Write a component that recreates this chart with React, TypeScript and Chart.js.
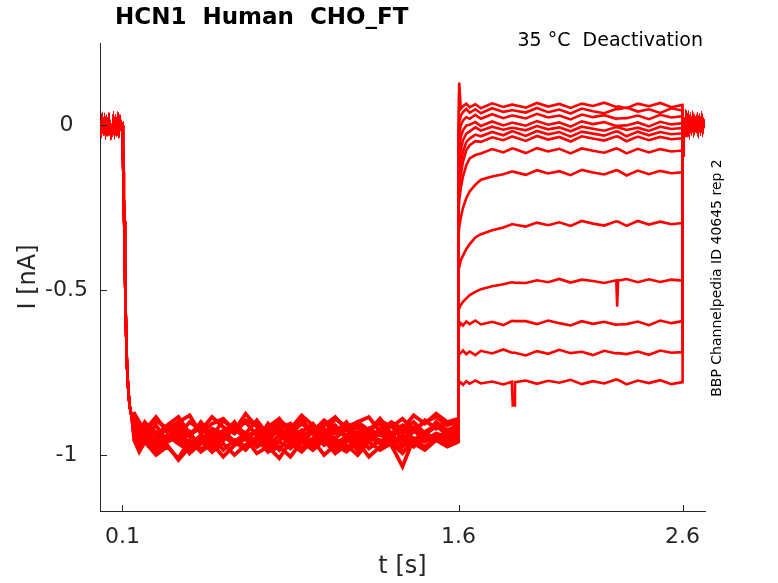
import React, { useEffect, useRef } from 'react';
import { Chart, registerables } from 'chart.js';

Chart.register(...registerables);

// holding at 0 before the step
const preT = [0, 0.005, 0.01, 0.015, 0.02, 0.025, 0.03, 0.035, 0.04, 0.045, 0.05, 0.055, 0.06, 0.065, 0.07, 0.075, 0.08, 0.085, 0.09, 0.095];
const preI = [0.01, -0.012, 0.014, -0.008, 0.012, -0.015, 0.009, -0.01, 0.013, -0.011, -0.03, -0.02, 0.012, -0.014, 0.01, -0.01, 0.014, -0.012, 0.011, -0.006];

// activation step (same for all sweeps)
const dropT = [0.1, 0.102, 0.104, 0.106, 0.108, 0.111, 0.115, 0.12, 0.125, 0.132, 0.14];
const dropI = [0, -0.06, -0.14, -0.22, -0.29, -0.42, -0.58, -0.72, -0.79, -0.85, -0.88];

const holdT = [0.15, 0.175, 0.2, 0.25, 0.3, 0.35, 0.4, 0.45, 0.5, 0.55, 0.6, 0.65, 0.7, 0.75, 0.8, 0.85, 0.9, 0.95, 1.0, 1.05, 1.1, 1.15, 1.2, 1.25, 1.3, 1.35, 1.4, 1.45, 1.5, 1.55, 1.599];
const holdI = [
  [-0.9, -0.92, -0.95, -0.91, -0.96, -0.92, -0.945, -0.9, -0.94, -0.955, -0.915, -0.935, -0.96, -0.905, -0.94, -0.925, -0.955, -0.91, -0.945, -0.93, -0.9, -0.95, -0.92, -0.94, -0.905, -0.935, -0.915, -0.94, -0.9, -0.925, -0.91],
  [-0.92, -0.96, -0.935, -0.975, -0.94, -0.965, -0.93, -0.985, -0.95, -0.93, -0.97, -0.945, -0.925, -0.975, -0.955, -0.935, -0.98, -0.95, -0.92, -0.965, -0.945, -0.975, -0.93, -0.96, -0.94, -0.97, -0.925, -0.955, -0.935, -0.945, -0.93],
  [-0.87, -0.9, -0.925, -0.885, -0.93, -0.9, -0.88, -0.935, -0.905, -0.89, -0.925, -0.875, -0.915, -0.93, -0.895, -0.92, -0.88, -0.91, -0.94, -0.89, -0.915, -0.9, -0.885, -0.93, -0.9, -0.92, -0.88, -0.905, -0.875, -0.9, -0.89],
  [-0.94, -0.98, -0.95, -0.99, -0.96, -0.945, -0.995, -0.965, -0.94, -0.985, -0.955, -0.975, -0.945, -0.99, -0.96, -0.98, -0.95, -0.975, -0.94, -0.985, -0.96, -0.945, -0.98, -0.955, -0.97, -1.035, -0.95, -0.98, -0.945, -0.965, -0.95],
  [-0.91, -0.95, -0.925, -0.96, -0.915, -0.955, -0.935, -0.91, -0.965, -0.94, -0.92, -0.95, -0.93, -0.96, -0.915, -0.945, -0.925, -0.965, -0.935, -0.91, -0.95, -0.93, -0.96, -0.92, -0.945, -0.915, -0.955, -0.93, -0.91, -0.94, -0.925],
  [-0.885, -0.93, -0.9, -0.94, -0.91, -0.885, -0.935, -0.92, -0.945, -0.895, -0.925, -0.9, -0.94, -0.915, -0.89, -0.935, -0.905, -0.93, -0.895, -0.92, -0.945, -0.9, -0.925, -0.89, -0.935, -0.91, -0.93, -0.895, -0.92, -0.9, -0.91],
  [-0.95, -0.99, -0.96, -1.0, -0.975, -1.01, -0.955, -0.99, -0.965, -1.005, -0.97, -0.95, -0.995, -0.975, -1.01, -0.96, -0.985, -0.955, -1.0, -0.97, -0.99, -0.96, -1.005, -0.975, -0.955, -0.99, -0.965, -0.985, -0.955, -0.975, -0.96],
  [-0.905, -0.945, -0.915, -0.93, -0.955, -0.91, -0.94, -0.965, -0.92, -0.935, -0.9, -0.95, -0.925, -0.945, -0.91, -0.96, -0.93, -0.905, -0.95, -0.92, -0.94, -0.915, -0.945, -0.93, -0.91, -0.955, -0.92, -0.94, -0.91, -0.93, -0.92],
  [-0.93, -0.97, -0.945, -0.98, -0.94, -0.965, -0.99, -0.95, -0.975, -0.935, -0.96, -0.985, -0.945, -0.97, -0.94, -0.965, -0.99, -0.955, -0.935, -0.975, -0.95, -0.985, -0.945, -0.965, -0.935, -0.975, -0.95, -0.96, -0.94, -0.955, -0.945],
  [-0.875, -0.905, -0.93, -0.895, -0.92, -0.94, -0.9, -0.925, -0.885, -0.915, -0.935, -0.895, -0.91, -0.93, -0.9, -0.92, -0.89, -0.935, -0.91, -0.885, -0.925, -0.905, -0.93, -0.895, -0.915, -0.89, -0.925, -0.9, -0.885, -0.91, -0.895],
  [-0.92, -0.955, -0.93, -0.965, -0.945, -0.92, -0.97, -0.94, -0.955, -0.925, -0.96, -0.935, -0.975, -0.95, -0.925, -0.96, -0.94, -0.97, -0.93, -0.95, -0.92, -0.965, -0.945, -0.93, -0.96, -0.94, -0.97, -0.935, -0.95, -0.93, -0.94],
  [-0.95, -0.985, -0.96, -0.995, -0.97, -1.015, -0.975, -0.955, -0.99, -0.965, -1.0, -0.97, -0.95, -0.99, -0.975, -1.005, -0.96, -0.985, -0.955, -0.995, -0.97, -1.0, -0.96, -0.985, -0.965, -0.995, -0.955, -0.975, -0.95, -0.97, -0.96],
  [-0.895, -0.935, -0.91, -0.945, -0.92, -0.9, -0.94, -0.915, -0.93, -0.955, -0.91, -0.935, -0.895, -0.94, -0.92, -0.905, -0.945, -0.925, -0.9, -0.935, -0.915, -0.95, -0.92, -0.905, -0.94, -0.925, -0.9, -0.935, -0.915, -0.9, -0.91],
  [-0.93, -0.965, -0.94, -0.98, -0.955, -0.93, -0.975, -0.95, -0.99, -0.945, -0.965, -0.935, -0.975, -0.955, -0.985, -0.94, -0.96, -0.93, -0.97, -0.95, -0.985, -0.94, -0.96, -0.935, -0.97, -0.95, -0.975, -0.94, -0.955, -0.935, -0.945],
];

// deactivation test pulses, one row per sweep
const deactT = [1.6, 1.603, 1.61, 1.62, 1.635, 1.65, 1.675, 1.7, 1.75, 1.8, 1.838, 1.842, 1.848, 1.852, 1.9, 1.95, 2.0, 2.05, 2.1, 2.15, 2.2, 2.25, 2.304, 2.308, 2.312, 2.35, 2.4, 2.45, 2.5, 2.55, 2.599];
const deactI = [
  [0.02, 0.13, 0.05, 0.058, 0.066, 0.055, 0.064, 0.052, 0.067, 0.056, 0.063, 0.063, 0.062, 0.062, 0.054, 0.068, 0.057, 0.065, 0.053, 0.066, 0.059, 0.069, 0.056, 0.057, 0.058, 0.052, 0.066, 0.058, 0.068, 0.055, 0.062],
  [-0.02, 0.01, 0.03, 0.04, 0.05, 0.038, 0.049, 0.037, 0.052, 0.041, 0.046, 0.046, 0.045, 0.045, 0.039, 0.053, 0.04, 0.048, 0.036, 0.051, 0.043, 0.037, 0.05, 0.049, 0.049, 0.054, 0.042, 0.049, 0.038, 0.052, 0.045],
  [-0.06, -0.03, 0.0, 0.015, 0.025, 0.02, 0.032, 0.02, 0.034, 0.022, 0.03, 0.03, 0.029, 0.029, 0.021, 0.035, 0.024, 0.03, 0.018, 0.033, 0.025, 0.031, 0.02, 0.021, 0.021, 0.022, 0.03, 0.019, 0.032, 0.024, 0.028],
  [-0.1, -0.07, -0.035, -0.015, 0.0, 0.002, 0.01, -0.002, 0.012, 0.0, 0.008, 0.008, 0.007, 0.007, -0.001, 0.013, 0.002, 0.009, -0.004, 0.012, 0.004, 0.01, -0.002, -0.001, -0.001, 0.0, 0.009, -0.003, 0.011, 0.003, 0.007],
  [-0.14, -0.11, -0.075, -0.045, -0.025, -0.018, -0.006, -0.016, -0.004, -0.013, -0.007, -0.007, -0.008, -0.008, -0.015, -0.002, -0.012, -0.006, -0.018, -0.004, -0.01, -0.016, -0.005, -0.006, -0.006, -0.014, -0.007, -0.017, -0.004, -0.011, -0.008],
  [-0.18, -0.15, -0.115, -0.08, -0.05, -0.04, -0.028, -0.033, -0.02, -0.03, -0.018, -0.018, -0.019, -0.019, -0.032, -0.017, -0.027, -0.02, -0.034, -0.019, -0.025, -0.031, -0.018, -0.019, -0.019, -0.033, -0.019, -0.03, -0.02, -0.027, -0.024],
  [-0.22, -0.19, -0.15, -0.11, -0.075, -0.06, -0.048, -0.05, -0.036, -0.045, -0.034, -0.034, -0.035, -0.035, -0.047, -0.032, -0.043, -0.035, -0.049, -0.033, -0.04, -0.046, -0.033, -0.034, -0.034, -0.048, -0.034, -0.045, -0.035, -0.042, -0.039],
  [-0.26, -0.23, -0.19, -0.155, -0.12, -0.1, -0.09, -0.085, -0.072, -0.082, -0.07, -0.07, -0.071, -0.071, -0.084, -0.069, -0.079, -0.071, -0.085, -0.07, -0.077, -0.083, -0.07, -0.071, -0.071, -0.085, -0.071, -0.082, -0.072, -0.079, -0.076],
  [-0.33, -0.31, -0.28, -0.25, -0.22, -0.2, -0.18, -0.165, -0.155, -0.148, -0.14, -0.14, -0.141, -0.141, -0.15, -0.136, -0.146, -0.139, -0.151, -0.135, -0.143, -0.149, -0.136, -0.137, -0.137, -0.152, -0.137, -0.148, -0.138, -0.145, -0.142],
  [-0.44, -0.43, -0.41, -0.395, -0.375, -0.36, -0.34, -0.33, -0.318, -0.31, -0.3, -0.3, -0.301, -0.301, -0.307, -0.295, -0.303, -0.294, -0.305, -0.29, -0.298, -0.304, -0.291, -0.292, -0.292, -0.305, -0.29, -0.301, -0.292, -0.3, -0.296],
  [-0.56, -0.555, -0.545, -0.535, -0.525, -0.515, -0.505, -0.497, -0.488, -0.482, -0.476, -0.476, -0.477, -0.477, -0.478, -0.47, -0.476, -0.466, -0.477, -0.468, -0.472, -0.478, -0.47, -0.55, -0.471, -0.466, -0.476, -0.467, -0.475, -0.468, -0.471],
  [-0.62, -0.61, -0.6, -0.607, -0.595, -0.603, -0.592, -0.604, -0.596, -0.606, -0.593, -0.593, -0.594, -0.594, -0.594, -0.603, -0.592, -0.6, -0.607, -0.594, -0.602, -0.596, -0.605, -0.604, -0.604, -0.603, -0.595, -0.606, -0.592, -0.6, -0.594],
  [-0.7, -0.695, -0.69, -0.683, -0.694, -0.686, -0.697, -0.684, -0.692, -0.68, -0.69, -0.69, -0.689, -0.689, -0.698, -0.685, -0.693, -0.681, -0.691, -0.687, -0.697, -0.684, -0.692, -0.691, -0.691, -0.694, -0.686, -0.696, -0.683, -0.69, -0.688],
  [-0.79, -0.785, -0.78, -0.787, -0.776, -0.784, -0.774, -0.783, -0.777, -0.786, -0.778, -0.85, -0.85, -0.779, -0.774, -0.784, -0.775, -0.781, -0.772, -0.785, -0.776, -0.783, -0.771, -0.772, -0.772, -0.786, -0.774, -0.782, -0.773, -0.785, -0.779],
];

// back to holding
const postT = [2.6, 2.602, 2.605, 2.61, 2.615, 2.62, 2.625, 2.63, 2.635, 2.64, 2.645, 2.65, 2.655, 2.66, 2.665, 2.67, 2.675, 2.68, 2.685, 2.69, 2.695, 2.7];
const postI = [0.0, -0.09, 0.02, -0.01, 0.018, -0.008, 0.016, -0.012, 0.014, -0.006, 0.017, -0.01, 0.012, -0.004, 0.015, -0.011, 0.013, -0.007, 0.016, -0.009, 0.011, 0.004];

const xTicks = [0.1, 1.6, 2.6];
const xTickLabels = ['0.1', '1.6', '2.6'];
const yTicks = [0, -0.5, -1];
const yTickLabels = ['0', '-0.5', '-1'];

const FONT = 'DejaVu Sans';
const AXIS = '#262626';

const toPts = (ts: number[], vs: number[]) => ts.map((t, i) => ({ x: t, y: vs[i] }));

// inward tick marks + title texts (MATLAB look)
const decorations = {
  id: 'decorations',
  afterDraw(chart: any) {
    const { ctx, chartArea, scales } = chart;
    ctx.save();
    ctx.strokeStyle = AXIS;
    ctx.lineWidth = 1;
    ctx.beginPath();
    xTicks.forEach((v) => {
      const px = Math.round(scales.x.getPixelForValue(v)) + 0.5;
      ctx.moveTo(px, chartArea.bottom);
      ctx.lineTo(px, chartArea.bottom - 6);
    });
    yTicks.forEach((v) => {
      const py = Math.round(scales.y.getPixelForValue(v)) + 0.5;
      ctx.moveTo(chartArea.left, py);
      ctx.lineTo(chartArea.left + 7, py);
    });
    ctx.stroke();

    ctx.fillStyle = '#000';
    ctx.textBaseline = 'middle';
    ctx.font = `bold 23px "${FONT}"`;
    ctx.textAlign = 'left';
    ctx.fillText('HCN1  Human  CHO_FT', 115, 18);

    ctx.font = `19px "${FONT}"`;
    ctx.textAlign = 'right';
    ctx.fillText('35 °C  Deactivation', 703, 41);

    ctx.translate(717, 278);
    ctx.rotate(-Math.PI / 2);
    ctx.font = `14px "${FONT}"`;
    ctx.textAlign = 'center';
    ctx.fillText('BBP Channelpedia ID 40645 rep 2', 0, 0);
    ctx.restore();
  },
};

const App = () => {
  const chartRef = useRef<HTMLCanvasElement>(null);
  const chartInstance = useRef<Chart | null>(null);

  useEffect(() => {
    if (chartInstance.current) {
      chartInstance.current.destroy();
    }
    const ctx = chartRef.current?.getContext('2d');
    if (!ctx) return;

    const holdStart = holdT[0];
    const holdEnd = holdT[holdT.length - 1];

    const datasets = holdI.map((hold, k) => ({
      data: [
        ...toPts(preT, preI),
        ...toPts(dropT, dropI),
        ...toPts(holdT, hold),
        ...toPts(deactT, deactI[k]),
        ...toPts(postT, postI),
      ],
      borderColor: '#ff0000',
      borderWidth: 2.6,
      // noisy activation band drawn a bit heavier
      segment: {
        borderWidth: (c: any) =>
          c.p0.parsed.x >= holdStart && c.p1.parsed.x <= holdEnd ? 3.8 : 2.6,
      },
      pointRadius: 0,
      tension: 0,
      fill: false,
    }));

    chartInstance.current = new Chart(ctx, {
      type: 'line',
      data: { datasets },
      plugins: [decorations],
      options: {
        animation: false,
        responsive: false,
        parsing: false,
        layout: { padding: { left: 0, right: 73, top: 43, bottom: 0 } },
        plugins: { legend: { display: false }, tooltip: { enabled: false } },
        scales: {
          x: {
            type: 'linear',
            min: 0,
            max: 2.7,
            grid: { display: false, drawTicks: false },
            border: { display: true, color: AXIS, width: 1 },
            afterBuildTicks: (s: any) => {
              s.ticks = xTicks.map((v) => ({ value: v }));
            },
            afterFit: (s: any) => {
              s.height = 72;
            },
            ticks: {
              padding: 13,
              color: AXIS,
              font: { family: FONT, size: 22 },
              maxRotation: 0,
              callback: (v: any) => xTickLabels[xTicks.indexOf(Number(v))] ?? '',
            },
            title: {
              display: true,
              text: 't [s]',
              color: AXIS,
              font: { family: FONT, size: 24 },
              padding: { top: 0, bottom: 2 },
            },
          },
          y: {
            type: 'linear',
            min: -1.17,
            max: 0.25,
            grid: { display: false, drawTicks: false },
            border: { display: true, color: AXIS, width: 1 },
            afterBuildTicks: (s: any) => {
              s.ticks = yTicks.map((v) => ({ value: v }));
            },
            afterFit: (s: any) => {
              s.width = 100;
            },
            ticks: {
              padding: 12,
              crossAlign: 'center',
              color: AXIS,
              font: { family: FONT, size: 22 },
              callback: (v: any) => yTickLabels[yTicks.indexOf(Number(v))] ?? '',
            },
            title: {
              display: true,
              text: 'I [nA]',
              color: AXIS,
              font: { family: FONT, size: 24 },
              padding: { top: 14, bottom: 0 },
            },
          },
        },
      },
    });

    return () => {
      if (chartInstance.current) {
        chartInstance.current.destroy();
        chartInstance.current = null;
      }
    };
  }, []);

  return (
    <div style={{ position: 'fixed', left: 0, top: 0, width: 778, height: 583, background: '#fff' }}>
      <canvas ref={chartRef} width={778} height={583} style={{ display: 'block' }} />
    </div>
  );
};

export default App;
